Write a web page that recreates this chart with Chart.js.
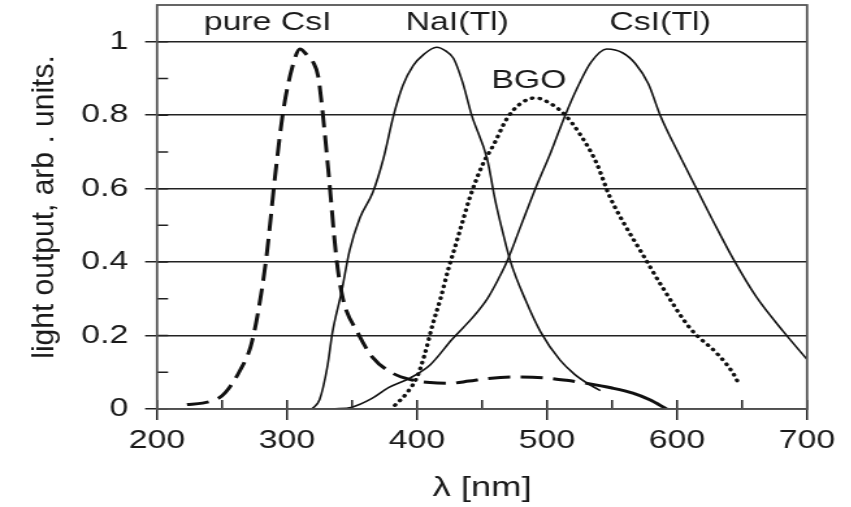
<!DOCTYPE html>
<html>
<head>
<meta charset="utf-8">
<script src="https://cdn.jsdelivr.net/npm/chart.js@4.4.1/dist/chart.umd.min.js"></script>
<style>
html,body{margin:0;background:#fff;overflow:hidden}
/* the source figure is a horizontally stretched scan, so stretch the canvas the same way */
#spectra{display:block;transform:scaleX(1.3);transform-origin:0 0}
</style>
</head>
<body>
<canvas id="spectra" width="655" height="507"></canvas>
<script>
const STRETCH = 1.3;

// axis ticks
const xTicks = [200, 300, 400, 500, 600, 700];
const xMinor = [250, 350, 450, 550, 650];
const yTicks = [0, 0.2, 0.4, 0.6, 0.8, 1];
const yMinor = [0.1, 0.3, 0.5, 0.7, 0.9];

// emission spectra, [wavelength nm, light output]
const pureCsI = [[223,0.012],[235,0.016],[244,0.024],[250,0.036],[256,0.06],[264,0.106],[272,0.17],[277,0.25],
  [284,0.41],[291,0.64],[297,0.81],[304,0.93],[310,0.98],[315,0.965],[320,0.945],[324,0.905],[327,0.82],
  [332,0.64],[338,0.41],[343,0.30],[354,0.21],[366,0.14],[381,0.098],[395,0.08],[410,0.072],[425,0.07],
  [440,0.076],[455,0.083],[475,0.087],[497,0.085],[515,0.078],[530,0.07],[550,0.057],[566,0.043],
  [579,0.025],[592,0]];
const naiTl = [[319,0],[325,0.025],[331,0.115],[335,0.21],[342,0.32],[348,0.43],[356,0.52],[366,0.59],
  [374,0.68],[382,0.80],[389,0.88],[397,0.935],[405,0.965],[415,0.985],[422,0.975],[428,0.955],[435,0.89],
  [442,0.80],[454,0.68],[460,0.57],[466,0.48],[472,0.40],[483,0.30],[495,0.21],[510,0.133],[521,0.095],
  [531,0.07],[541,0.05]];
const csiTl = [[335,0],[350,0.005],[365,0.028],[378,0.058],[395,0.085],[410,0.12],[427,0.19],[443,0.25],
  [454,0.30],[462,0.35],[469,0.40],[480,0.50],[491,0.60],[503,0.70],[514,0.80],[524,0.88],[534,0.945],
  [546,0.98],[558,0.97],[568,0.94],[578,0.885],[587,0.80],[602,0.69],[615,0.60],[628,0.51],[643,0.41],
  [661,0.305],[682,0.21],[700,0.135]];
const bgo = [[383,0.01],[392,0.043],[400,0.087],[406,0.15],[412,0.23],[418,0.30],[424,0.38],[430,0.45],
  [435,0.51],[441,0.58],[451,0.67],[459,0.72],[469,0.79],[479,0.83],[491,0.847],[502,0.833],[514,0.80],
  [525,0.75],[538,0.67],[548,0.58],[560,0.50],[572,0.43],[589,0.33],[610,0.22],[631,0.15],[643,0.098],
  [648,0.065]];

const notes = [
  {text: 'pure CsI', x: 285, y: 1.052},
  {text: 'NaI(Tl)', x: 431, y: 1.052},
  {text: 'CsI(Tl)', x: 587, y: 1.052},
  {text: 'BGO', x: 486, y: 0.894}
];
const yTitle = 'light output, arb . units.';

const FONT = '"Liberation Sans", Arial, sans-serif';
const INK = '#1a1a1a';
const toXY = arr => arr.map(p => ({x: p[0], y: p[1]}));

const frame = {
  id: 'frame',
  afterDatasetsDraw(chart) {
    const {ctx, chartArea: a, scales: {x, y}} = chart;
    ctx.save();
    ctx.strokeStyle = '#222';
    ctx.lineWidth = 1.5;
    ctx.beginPath();
    [...xTicks, ...xMinor].forEach(v => {
      const px = x.getPixelForValue(v);
      ctx.moveTo(px, a.bottom); ctx.lineTo(px, a.bottom - 9);
    });
    [...yTicks, ...yMinor].forEach(v => {
      const py = y.getPixelForValue(v);
      ctx.moveTo(a.left, py); ctx.lineTo(a.left + 8.5, py);
    });
    ctx.stroke();
    ctx.strokeStyle = '#555';
    ctx.lineWidth = 1.8;
    ctx.strokeRect(a.left, a.top, a.right - a.left, a.bottom - a.top);
    ctx.fillStyle = INK;
    ctx.font = '26px ' + FONT;
    ctx.textAlign = 'center';
    ctx.textBaseline = 'middle';
    notes.forEach(n => ctx.fillText(n.text, x.getPixelForValue(n.x), y.getPixelForValue(n.y)));
    // vertical axis title is not stretched in the source, undo the css stretch for it
    ctx.translate(34.6, (a.top + a.bottom) / 2);
    ctx.scale(1 / STRETCH, 1);
    ctx.rotate(-Math.PI / 2);
    ctx.font = '30px ' + FONT;
    ctx.fillText(yTitle, 0, 0);
    ctx.restore();
  }
};

const line = (label, pts, width, dash, cap) => ({
  label, data: toXY(pts), borderColor: '#111', borderWidth: width,
  borderDash: dash, borderCapStyle: cap, pointRadius: 0,
  cubicInterpolationMode: 'monotone', fill: false
});

const csiSet = line('pure CsI', pureCsI, 3, [17, 8], 'butt');
// the far tail of the pure CsI curve is drawn solid
csiSet.segment = {borderDash: c => c.p0.parsed.x >= 530 ? [] : undefined};

new Chart(document.getElementById('spectra'), {
  type: 'line',
  data: {datasets: [
    csiSet,
    line('NaI(Tl)', naiTl, 1.6, [], 'butt'),
    line('CsI(Tl)', csiTl, 1.6, [], 'butt'),
    line('BGO', bgo, 3.4, [0.5, 5.5], 'round')
  ]},
  options: {
    responsive: false,
    animation: false,
    layout: {padding: {top: 5, right: 34.2, left: 0, bottom: 0}},
    plugins: {legend: {display: false}, tooltip: {enabled: false}},
    scales: {
      x: {
        type: 'linear', min: 200, max: 700,
        afterBuildTicks: s => { s.ticks = xTicks.map(v => ({value: v})); },
        afterFit: s => { s.height = 98; s.paddingLeft = 0; s.paddingRight = 0; },
        grid: {drawOnChartArea: false, tickLength: 11, color: '#222', lineWidth: 1.5},
        border: {display: false},
        ticks: {color: INK, padding: 5, maxRotation: 0, font: {family: FONT, size: 26}},
        title: {display: true, text: 'λ [nm]', color: INK, padding: {top: 0, bottom: 2},
          font: {family: FONT, size: 28}}
      },
      y: {
        min: 0, max: 1.1,
        afterBuildTicks: s => { s.ticks = yTicks.map(v => ({value: v})); },
        afterFit: s => { s.width = 120.8; s.paddingTop = 0; s.paddingBottom = 0; },
        grid: {tickLength: 9.2, color: '#222', lineWidth: 1.5},
        border: {display: false},
        ticks: {color: INK, padding: 13, callback: v => String(v), font: {family: FONT, size: 26}},
        title: {display: false, text: yTitle}
      }
    }
  },
  plugins: [frame]
});
</script>
</body>
</html>
